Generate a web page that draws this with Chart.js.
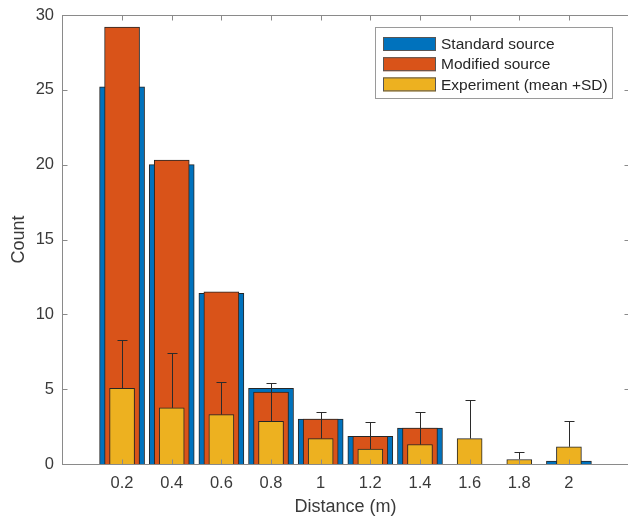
<!DOCTYPE html>
<html>
<head>
<meta charset="utf-8">
<script src="https://cdn.jsdelivr.net/npm/chart.js@4"></script>
<style>
  html, body { margin: 0; padding: 0; background: #fff; overflow: hidden; }
  #wrap { width: 640px; height: 523px; }
</style>
</head>
<body>
<div id="wrap"><canvas id="chart" width="640" height="523"></canvas></div>
<script>
// distance bins (m)
const distances = [0.2, 0.4, 0.6, 0.8, 1, 1.2, 1.4, 1.6, 1.8, 2];
// simulated counts
const standardSource = [25.2, 20.0, 11.4, 5.05, 3.0, 1.85, 2.4, 0, 0, 0.2];
const modifiedSource = [29.2, 20.3, 11.5, 4.8, 3.0, 1.85, 2.4, 0, 0, 0];
// measured counts: mean and standard deviation
const experimentMean = [5.05, 3.75, 3.3, 2.85, 1.7, 1.0, 1.3, 1.7, 0.3, 1.15];
const experimentSD = [3.23, 3.65, 2.2, 2.54, 1.8, 1.78, 2.18, 2.58, 0.49, 1.71];
const yTicks = [0, 5, 10, 15, 20, 25, 30];

const seriesLabels = ["Standard source", "Modified source", "Experiment (mean +SD)"];
const colors = ["#0072BD", "#D95319", "#EDB120"];
const edge = "#262626";
const axisColor = "#8a8a8a";
const textColor = "#3a3a3a";
const fontFamily = "'Liberation Sans', Arial, sans-serif";

const toPoints = (vals) => vals.map((v, i) => ({ x: distances[i], y: v }));

// box axes with inward ticks, error bars and the legend, drawn over the bars
const overlay = {
  id: "overlay",
  afterDatasetsDraw(chart) {
    const { ctx, chartArea: a, scales } = chart;
    const xs = scales.x, ys = scales.y;
    ctx.save();

    // error bars (upper only)
    ctx.strokeStyle = "#2b2b2b";
    ctx.lineWidth = 1;
    experimentMean.forEach((m, i) => {
      const px = Math.round(xs.getPixelForValue(distances[i])) + 0.5;
      const y0 = ys.getPixelForValue(m);
      const y1 = Math.round(ys.getPixelForValue(m + experimentSD[i])) + 0.5;
      ctx.beginPath();
      ctx.moveTo(px, y0);
      ctx.lineTo(px, y1);
      ctx.moveTo(px - 5, y1);
      ctx.lineTo(px + 5, y1);
      ctx.stroke();
    });

    // axes box
    ctx.strokeStyle = axisColor;
    ctx.lineWidth = 1;
    const L = Math.round(a.left) + 0.5, R = Math.round(a.right) + 0.5;
    const T = Math.round(a.top) + 0.5, B = Math.round(a.bottom) + 0.5;
    ctx.strokeRect(L, T, R - L, B - T);

    // inward tick marks
    ctx.beginPath();
    distances.forEach((d) => {
      const px = Math.round(xs.getPixelForValue(d)) + 0.5;
      ctx.moveTo(px, B); ctx.lineTo(px, B - 5);
      ctx.moveTo(px, T); ctx.lineTo(px, T + 5);
    });
    yTicks.forEach((t) => {
      const py = Math.round(ys.getPixelForValue(t)) + 0.5;
      ctx.moveTo(L, py); ctx.lineTo(L + 5, py);
      ctx.moveTo(R, py); ctx.lineTo(R - 5, py);
    });
    ctx.stroke();

    // legend
    const lx = 375.5, ly = 27.5, lw = 237, lh = 71;
    ctx.fillStyle = "#fff";
    ctx.fillRect(lx, ly, lw, lh);
    ctx.strokeStyle = "#9a9a9a";
    ctx.strokeRect(lx, ly, lw, lh);
    ctx.font = "15.5px " + fontFamily;
    ctx.textBaseline = "middle";
    ctx.textAlign = "left";
    chart.data.datasets.forEach((ds, i) => {
      const cy = 44 + i * 20.2;
      ctx.fillStyle = ds.backgroundColor;
      ctx.fillRect(383, cy - 7, 53, 14);
      ctx.strokeStyle = "#555";
      ctx.strokeRect(383.5, cy - 6.5, 52, 13);
      ctx.fillStyle = "#262626";
      ctx.fillText(ds.label, 441, cy + 1);
    });

    ctx.restore();
  }
};

new Chart(document.getElementById("chart"), {
  type: "bar",
  data: {
    datasets: [
      {
        label: seriesLabels[0],
        data: toPoints(standardSource),
        backgroundColor: colors[0],
        borderColor: edge,
        borderWidth: 1,
        barThickness: 45,
        order: 3
      },
      {
        label: seriesLabels[1],
        data: toPoints(modifiedSource),
        backgroundColor: colors[1],
        borderColor: edge,
        borderWidth: 1,
        barThickness: 35,
        order: 2
      },
      {
        label: seriesLabels[2],
        data: toPoints(experimentMean),
        backgroundColor: colors[2],
        borderColor: edge,
        borderWidth: 1,
        barThickness: 25,
        order: 1
      }
    ]
  },
  options: {
    responsive: false,
    animation: false,
    devicePixelRatio: 1,
    grouped: false,
    layout: { padding: { top: 15, right: 11, left: 0, bottom: 0 } },
    plugins: {
      legend: { display: false },
      tooltip: { enabled: false }
    },
    scales: {
      x: {
        type: "linear",
        offset: false,
        min: -0.042,
        max: 2.242,
        afterBuildTicks: (axis) => {
          axis.ticks = distances.map((v) => ({ value: v }));
        },
        afterFit: (axis) => {
          axis.height = 59;
          axis.paddingLeft = 0;
          axis.paddingRight = 0;
        },
        grid: { display: false, drawTicks: false, offset: false },
        border: { display: false },
        ticks: {
          autoSkip: false,
          maxRotation: 0,
          padding: 10,
          color: textColor,
          font: { family: fontFamily, size: 16.5 },
          callback: (v) => String(v)
        },
        title: {
          display: true,
          text: "Distance (m)",
          color: textColor,
          font: { family: fontFamily, size: 18 },
          padding: { top: 0, bottom: 5 }
        }
      },
      y: {
        min: 0,
        max: 30,
        afterBuildTicks: (axis) => {
          axis.ticks = yTicks.map((v) => ({ value: v }));
        },
        afterFit: (axis) => {
          axis.width = 62;
          axis.paddingTop = 0;
          axis.paddingBottom = 0;
        },
        grid: { display: false, drawTicks: false },
        border: { display: false },
        ticks: {
          padding: 8,
          color: textColor,
          font: { family: fontFamily, size: 16.5 }
        },
        title: {
          display: true,
          text: "Count",
          color: textColor,
          font: { family: fontFamily, size: 18 },
          padding: { top: 8, bottom: 0 }
        }
      }
    }
  },
  plugins: [overlay]
});
</script>
</body>
</html>
